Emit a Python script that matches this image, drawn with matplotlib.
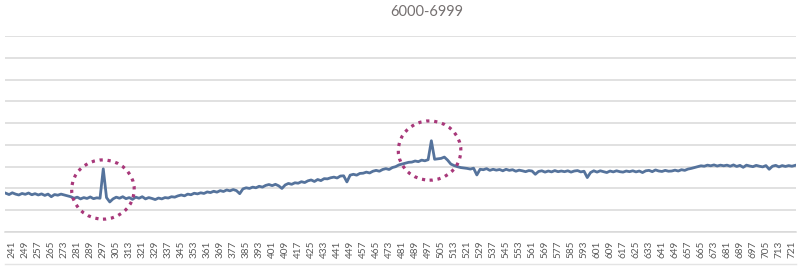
#!/usr/bin/env python3

import numpy as np
import matplotlib
matplotlib.use("Agg")
import matplotlib.pyplot as plt
from matplotlib.patches import Ellipse
from matplotlib.lines import Line2D

# chart data (values in grid units)
title = "6000-6999"
categories = list(range(237, 724, 2))
values = [
    1.78, 1.72, 1.80, 1.74, 1.70, 1.77, 1.73, 1.79, 1.71, 1.76,
    1.70, 1.75, 1.68, 1.74, 1.62, 1.72, 1.69, 1.74, 1.70, 1.66,
    1.62, 1.55, 1.60, 1.52, 1.58, 1.54, 1.61, 1.53, 1.57, 1.55,
    2.90,
    1.58, 1.38, 1.52, 1.60, 1.55, 1.62, 1.53, 1.58, 1.50,
    1.60, 1.55, 1.62, 1.52, 1.58, 1.54, 1.49, 1.56, 1.52, 1.58,
    1.56, 1.62, 1.60, 1.66, 1.70, 1.66, 1.74, 1.71, 1.78, 1.75,
    1.80, 1.77, 1.84, 1.81, 1.87, 1.83, 1.90, 1.86, 1.93, 1.89,
    1.95, 1.90, 1.76, 1.98, 2.03, 2.00, 2.06, 2.03, 2.10, 2.06,
    2.14, 2.18, 2.13, 2.19, 2.12, 2.00, 2.16, 2.23, 2.19, 2.26,
    2.24, 2.31, 2.27, 2.35, 2.39, 2.32, 2.41, 2.36, 2.45, 2.44,
    2.49, 2.52, 2.48, 2.57, 2.58, 2.30, 2.61, 2.65, 2.61, 2.69,
    2.70, 2.75, 2.71, 2.79, 2.83, 2.79, 2.87, 2.91, 2.87, 2.96,
    3.00, 3.08, 3.12, 3.16, 3.20, 3.21, 3.26, 3.23, 3.30, 3.27,
    3.32, 4.19,
    3.34, 3.36, 3.38, 3.44, 3.30, 3.12, 3.05, 3.00, 2.96, 2.94,
    2.92, 2.89, 2.93, 2.62, 2.88, 2.86, 2.91, 2.83, 2.88, 2.84,
    2.87, 2.81, 2.88, 2.83, 2.86, 2.79, 2.84, 2.81, 2.77, 2.82,
    2.80, 2.65, 2.78, 2.81, 2.75, 2.80, 2.76, 2.82, 2.77, 2.80,
    2.77, 2.81, 2.75, 2.80, 2.82, 2.76, 2.79, 2.50, 2.73, 2.81,
    2.75, 2.81, 2.77, 2.73, 2.80, 2.76, 2.81, 2.77, 2.75, 2.80,
    2.77, 2.81, 2.76, 2.80, 2.73, 2.81, 2.83, 2.77, 2.85, 2.80,
    2.78, 2.83, 2.79, 2.80, 2.84, 2.80, 2.86, 2.83, 2.89, 2.92,
    2.96, 3.00, 3.04, 3.02, 3.07, 3.04, 3.08, 3.03, 3.07, 3.04,
    3.07, 3.02, 3.08, 3.01, 3.06, 2.97, 3.07, 3.03, 3.00, 3.06,
    3.02, 2.99, 3.05, 2.88, 3.02, 3.06, 2.99, 3.05, 3.01, 3.05,
    3.02, 3.06,
]
tick_labels = list(range(241, 722, 8))

# dotted circles drawn round the two spikes: (center category, center value)
highlights = [(296.8, 1.95), (497.9, 3.74)]

LINE_COLOR = "#55739C"
CIRCLE_COLOR = "#A8387A"
GRID_COLOR = "#D9D9D9"
TEXT_COLOR = "#595959"


def main():
    assert len(categories) == len(values)

    fig = plt.figure(figsize=(8.07, 2.76), dpi=100)
    ax = fig.add_axes([5 / 807, 1 - 232 / 276, 791 / 807, 196 / 276])

    ax.plot(categories, values, color=LINE_COLOR, linewidth=2.0,
            solid_joinstyle="round", zorder=3)

    for cx, cy in highlights:
        ax.add_patch(Ellipse((cx, cy), width=38.5, height=2.72, fill=False,
                             edgecolor=CIRCLE_COLOR, linewidth=2.3,
                             linestyle=(0, (1, 1.5)), clip_on=False, zorder=4))

    ax.set_xlim(categories[0] - 0.5, categories[-1] + 0.5)
    ax.set_ylim(0, 9)
    ax.set_yticks(range(0, 10))
    ax.yaxis.grid(True, color=GRID_COLOR, linewidth=1.1)
    ax.set_axisbelow(True)
    ax.tick_params(axis="y", left=False, labelleft=False)

    ax.set_xticks(tick_labels)
    ax.set_xticklabels([str(t) for t in tick_labels], rotation=90,
                       fontsize=7.2, color=TEXT_COLOR, family="Lato")
    ax.tick_params(axis="x", length=0, pad=6)

    for side in ["left", "right", "top"]:
        ax.spines[side].set_visible(False)
    ax.spines["bottom"].set_color(GRID_COLOR)
    ax.spines["bottom"].set_linewidth(1.1)

    # faint rule below the tick labels
    fig.add_artist(Line2D([5 / 807, 796 / 807], [1 - 264 / 276] * 2,
                          color="#E4E4E4", linewidth=1.0))

    fig.text(427 / 807, 1 - 12 / 276, title, ha="center", va="center",
             fontsize=10.5, color="#757070", family="Lato")

    fig.savefig("out.png", dpi=100, facecolor="white")
    plt.close(fig)


if __name__ == "__main__":
    main()
